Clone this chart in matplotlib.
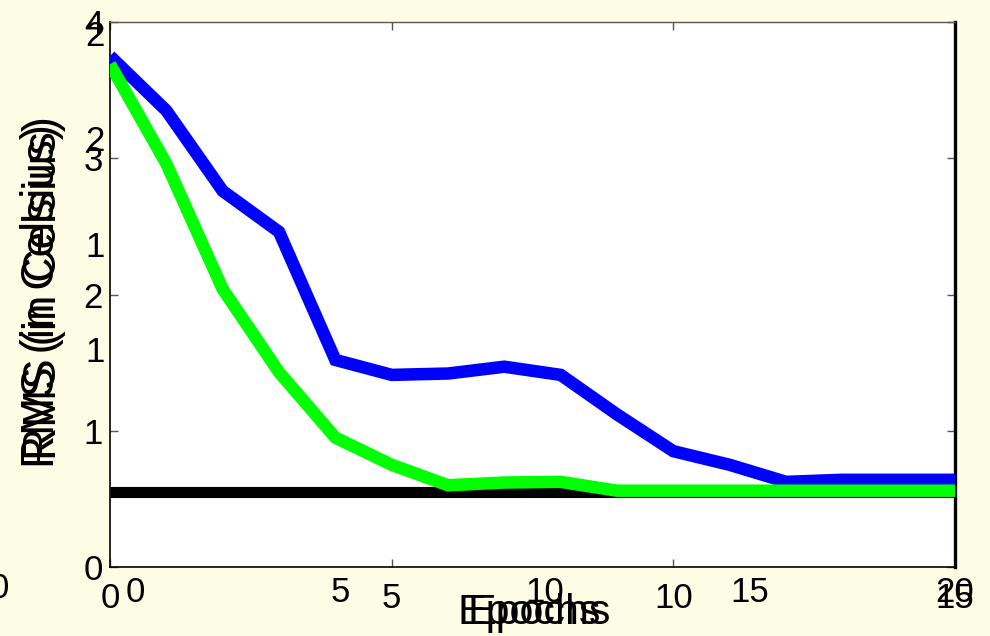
import matplotlib
matplotlib.use("Agg")
import matplotlib.pyplot as plt

plt.rcParams['font.family'] = ['Liberation Sans', 'DejaVu Sans']

# Training curves (RMS error per epoch)
epochs = list(range(16))
rms_blue = [3.75, 3.35, 2.76, 2.46, 1.52, 1.41, 1.42, 1.47, 1.41, 1.12,
            0.85, 0.75, 0.625, 0.64, 0.64, 0.64]
rms_green = [3.69, 2.96, 2.04, 1.43, 0.95, 0.75, 0.60, 0.62, 0.625, 0.56,
             0.56, 0.56, 0.56, 0.56, 0.56, 0.56]
baseline = 0.55

# Primary axis ticks
x_ticks = [0, 5, 10, 15]
y_ticks = [0, 1, 2, 3, 4]

# Secondary (overlaid) tick sets
x2_ticks = [0, 5, 10, 15, 20]
x2_labels = ['0', '5', '10', '15', '20']
y2_ticks = [0.8, 1.2, 1.6, 2.0]
y2_labels = ['1', '1', '2', '2']

BG = '#fdfde6'
W, H = 990, 636


def px_rect(l, r, t, b):
    return [l / W, (H - b) / H, (r - l) / W, (b - t) / H]


fig = plt.figure(figsize=(W / 100, H / 100), dpi=100, facecolor=BG)

ax = fig.add_axes(px_rect(110, 955, 22, 567))
ax.set_facecolor('white')
ax.set_xlim(0, 15)
ax.set_ylim(0, 4)

ax.plot(epochs, [baseline] * len(epochs), color='black', lw=8,
        solid_capstyle='butt', zorder=2)
ax.plot(epochs, rms_blue, color='#0000ff', lw=9, solid_capstyle='butt',
        solid_joinstyle='miter', zorder=3)
ax.plot(epochs, rms_green, color='#00ff00', lw=9, solid_capstyle='butt',
        solid_joinstyle='miter', zorder=4)

ax.set_xticks(x_ticks)
ax.set_yticks(y_ticks)
ax.set_xticklabels([str(v) for v in x_ticks])
ax.set_yticklabels([str(v) for v in y_ticks])
ax.tick_params(axis='both', direction='in', length=6, width=1,
               color='#555555', labelsize=25, top=True, right=True)
ax.tick_params(axis='x', pad=11)
ax.tick_params(axis='y', pad=5)

for side in ('left', 'bottom'):
    ax.spines[side].set_color('black')
    ax.spines[side].set_linewidth(1.2)
ax.spines['top'].set_color('#555555')
ax.spines['top'].set_linewidth(1.0)
ax.spines['right'].set_color('black')
ax.spines['right'].set_linewidth(2.4)

ax.set_xlabel('Epochs', fontsize=31)
ax.xaxis.set_label_coords(0.496, -0.084)
ax.xaxis.label.set_va('center')
ax.set_ylabel('RMS (in Celsius)', fontsize=33)
ax.yaxis.set_label_coords(-0.08, 0.497)
ax.yaxis.label.set_va('center')

# Overlaid x scale (0-20)
ax_x2 = fig.add_axes(px_rect(135, 955, 22, 567), frameon=False)
ax_x2.patch.set_visible(False)
ax_x2.set_xlim(0, 20)
ax_x2.set_xticks(x2_ticks)
ax_x2.set_xticklabels(x2_labels)
ax_x2.set_yticks([])
ax_x2.tick_params(axis='x', length=0, labelsize=25, pad=6.5)
ax_x2.set_xlabel('Epochs', fontsize=31)
ax_x2.xaxis.set_label_coords(0.4927, -0.084)
ax_x2.xaxis.label.set_va('center')

# Overlaid y scale (0-2)
ax_y2 = fig.add_axes(px_rect(110, 955, 33, 560), frameon=False)
ax_y2.patch.set_visible(False)
ax_y2.set_ylim(0, 2)
ax_y2.set_yticks(y2_ticks)
ax_y2.set_yticklabels(y2_labels)
ax_y2.set_xticks([])
ax_y2.tick_params(axis='y', length=0, labelsize=25, pad=3.6)
ax_y2.set_ylabel('RMS (in Celsius)', fontsize=33)
ax_y2.yaxis.set_label_coords(-0.078, 0.516)
ax_y2.yaxis.label.set_va('center')

fig.text(-1 / W, 1 - 588 / H, '0', fontsize=25, ha='center', va='center')

fig.savefig('out.png', dpi=100, facecolor=BG)
